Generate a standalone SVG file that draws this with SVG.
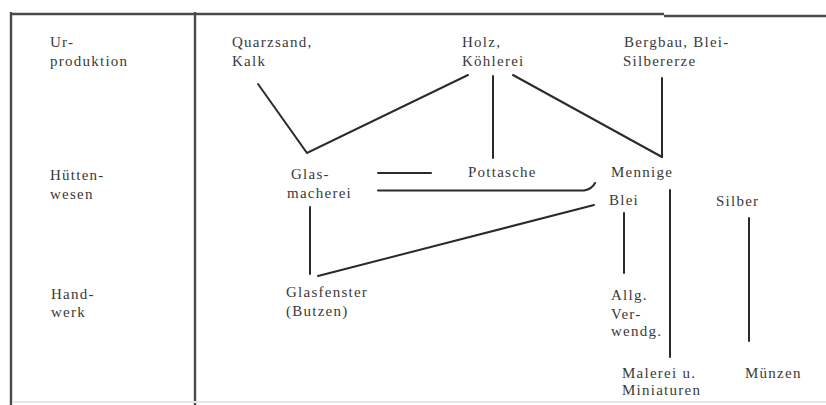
<svg xmlns="http://www.w3.org/2000/svg" width="826" height="405" viewBox="0 0 826 405">
<style>
.t{font-family:"Liberation Serif","Times New Roman",serif;font-size:15px;letter-spacing:1.25px;fill:#3a3a3a}
.f{stroke:#4a4a4a;stroke-width:2.4;fill:none}
.c{stroke:#2a2a2a;stroke-width:2;fill:none;stroke-linecap:round}
</style>
<rect width="826" height="405" fill="#fff"/>
<g id="frame">
<path class="f" d="M10 14H664M664 16H826M11 12V405M195 12V405"/>
<path d="M12 402H826" stroke="#e6e6e6" stroke-width="2"/>
</g>
<g id="row-labels">
<text class="t" x="50" y="47">Ur-</text>
<text class="t" x="50" y="66">produktion</text>
<text class="t" x="50" y="180">Hütten-</text>
<text class="t" x="50" y="199">wesen</text>
<text class="t" x="51" y="299">Hand-</text>
<text class="t" x="51" y="317">werk</text>
</g>
<g id="quarzsand"><text class="t" x="232" y="47">Quarzsand,</text><text class="t" x="232" y="66">Kalk</text></g>
<g id="holz"><text class="t" x="462" y="47">Holz,</text><text class="t" x="462" y="66">Köhlerei</text></g>
<g id="bergbau"><text class="t" x="624" y="47">Bergbau, Blei-</text><text class="t" x="623" y="66">Silbererze</text></g>
<g id="glasmacherei"><text class="t" x="291" y="179">Glas-</text><text class="t" x="287" y="198">macherei</text></g>
<g id="pottasche"><text class="t" x="468" y="177">Pottasche</text></g>
<g id="mennige"><text class="t" x="611" y="177">Mennige</text></g>
<g id="blei"><text class="t" x="609" y="205">Blei</text></g>
<g id="silber"><text class="t" x="716" y="206">Silber</text></g>
<g id="glasfenster"><text class="t" x="286" y="297">Glasfenster</text><text class="t" x="286" y="316">(Butzen)</text></g>
<g id="allg"><text class="t" x="611" y="300">Allg.</text><text class="t" x="611" y="319">Ver-</text><text class="t" x="611" y="336">wendg.</text></g>
<g id="malerei"><text class="t" x="622" y="378">Malerei u.</text><text class="t" x="622" y="395">Miniaturen</text></g>
<g id="muenzen"><text class="t" x="745" y="378">Münzen</text></g>
<g id="connectors">
<path class="c" d="M258 84L307 153L468 75"/>
<path class="c" d="M493 76V158"/>
<path class="c" d="M513 75L662 157" stroke-width="3"/>
<path class="c" d="M662 78V157"/>
<path class="c" d="M378 173H431"/>
<path class="c" d="M378 190.5H584Q592 189 595 183"/>
<path class="c" d="M310 207V274"/>
<path class="c" d="M318 276L594 205"/>
<path class="c" d="M670 190V357"/>
<path class="c" d="M624 213V273" stroke-width="2.4"/>
<path class="c" d="M749 218V341" stroke-width="2.4"/>
</g>
</svg>
